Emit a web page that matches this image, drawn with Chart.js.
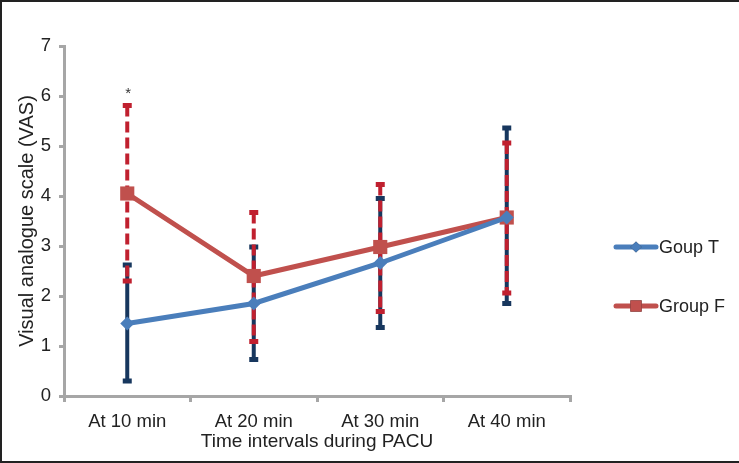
<!DOCTYPE html>
<html>
<head>
<meta charset="utf-8">
<script src="https://cdn.jsdelivr.net/npm/chart.js@4/dist/chart.umd.min.js"></script>
<style>
  html, body { margin: 0; padding: 0; background: #fff; }
  #frame { position: absolute; left: 0; top: 0; width: 739px; height: 463px; box-sizing: border-box; border: 2px solid #222; border-right: none; }
  #wrap { position: absolute; left: 0; top: 0; width: 737px; height: 459px; }
</style>
</head>
<body>
<div id="frame"><div id="wrap"><canvas id="vasChart"></canvas></div></div>
<script>
const labels = ["At 10 min", "At 20 min", "At 30 min", "At 40 min"];
const groupT = [1.45, 1.85, 2.66, 3.57];
const groupF = [4.05, 2.40, 2.98, 3.57];
// error bar ends (lower / upper)
const groupTLow = [0.30, 0.73, 1.37, 1.85];
const groupTHigh = [2.62, 2.98, 3.95, 5.36];
const groupFLow = [2.30, 1.09, 1.69, 2.06];
const groupFHigh = [5.81, 3.67, 4.23, 5.06];
const yTicks = [0, 1, 2, 3, 4, 5, 6, 7];

const FONT = "'Liberation Sans', Arial, sans-serif";

// draws the vertical error bars behind the lines
const errorBars = {
  id: "errorBars",
  beforeDatasetsDraw(chart) {
    const { ctx, scales: { x, y } } = chart;
    const bars = [
      { low: groupTLow, high: groupTHigh, color: "#17375E", dash: [] },
      { low: groupFLow, high: groupFHigh, color: "#C0202F", dash: [11, 5] },
    ];
    ctx.save();
    bars.forEach(b => {
      b.low.forEach((lo, i) => {
        const px = x.getPixelForValue(i);
        const y1 = y.getPixelForValue(lo);
        const y2 = y.getPixelForValue(b.high[i]);
        ctx.strokeStyle = b.color;
        ctx.lineWidth = 4;
        ctx.setLineDash(b.dash);
        ctx.beginPath();
        ctx.moveTo(px, y2);
        ctx.lineTo(px, y1);
        ctx.stroke();
        ctx.setLineDash([]);
        ctx.fillStyle = b.color;
        ctx.fillRect(px - 4.5, y1 - 2.5, 9, 5);
        ctx.fillRect(px - 4.5, y2 - 2.5, 9, 5);
      });
    });
    ctx.restore();
  },
  afterDraw(chart) {
    const { ctx, scales: { x, y } } = chart;
    ctx.save();
    // significance mark
    ctx.fillStyle = "#333";
    ctx.font = "15px " + FONT;
    ctx.textAlign = "center";
    ctx.textBaseline = "middle";
    ctx.fillText("*", x.getPixelForValue(0) + 1, y.getPixelForValue(groupFHigh[0]) - 12);
    // legend
    const items = [
      { text: "Goup T", ds: chart.data.datasets[0], y: 245 },
      { text: "Group F", ds: chart.data.datasets[1], y: 304 },
    ];
    items.forEach(it => {
      ctx.strokeStyle = it.ds.borderColor;
      ctx.lineWidth = 5;
      ctx.lineCap = "round";
      ctx.beginPath();
      ctx.moveTo(614, it.y);
      ctx.lineTo(654, it.y);
      ctx.stroke();
      Chart.helpers.drawPoint(ctx, {
        pointStyle: it.ds.pointStyle,
        radius: it.ds.pointRadius * 0.8,
        borderWidth: 0,
      }, 634, it.y);
      ctx.fillStyle = it.ds.borderColor;
      ctx.fill();
      ctx.fillStyle = "#222";
      ctx.font = "18px " + FONT;
      ctx.textAlign = "left";
      ctx.textBaseline = "middle";
      ctx.fillText(it.text, 657, it.y + 1);
    });
    ctx.restore();
  }
};

new Chart(document.getElementById("vasChart"), {
  type: "line",
  data: {
    labels: labels,
    datasets: [
      {
        label: "Goup T",
        data: groupT,
        borderColor: "#4A7EBB",
        backgroundColor: "#4A7EBB",
        borderWidth: 5,
        pointStyle: "rectRot",
        pointRadius: 7,
        pointBorderWidth: 0,
        tension: 0,
      },
      {
        label: "Group F",
        data: groupF,
        borderColor: "#C0504D",
        backgroundColor: "#C0504D",
        borderWidth: 5,
        pointStyle: "rect",
        pointRadius: 10,
        pointBorderWidth: 0,
        tension: 0,
      },
    ],
  },
  options: {
    responsive: true,
    maintainAspectRatio: false,
    animation: false,
    layout: { padding: { top: 44, right: 169, left: 0, bottom: 8 } },
    plugins: {
      legend: { display: false },
      tooltip: { enabled: false },
    },
    scales: {
      x: {
        offset: true,
        border: { color: "#A6A6A6", width: 3 },
        grid: { display: true, drawOnChartArea: false, offset: true, tickLength: 6, color: "#A6A6A6", lineWidth: 3 },
        ticks: { color: "#222", font: { family: FONT, size: 18.5 }, padding: 9 },
        title: { display: true, text: "Time intervals during PACU", color: "#222", font: { family: FONT, size: 19 }, padding: { top: 0, bottom: 0 } },
        afterFit(scale) { scale.height = 57; },
      },
      y: {
        min: 0,
        max: 7,
        afterBuildTicks(scale) { scale.ticks = yTicks.map(v => ({ value: v })); },
        border: { color: "#A6A6A6", width: 3 },
        grid: { display: true, drawOnChartArea: false, tickLength: 5, color: "#A6A6A6", lineWidth: 3 },
        ticks: { color: "#222", font: { family: FONT, size: 18.5 }, padding: 8 },
        title: { display: true, text: "Visual analogue scale (VAS)", color: "#222", font: { family: FONT, size: 20 }, padding: { top: 13, bottom: 0 } },
        afterFit(scale) { scale.width = 62; },
      },
    },
  },
  plugins: [errorBars],
});
</script>
</body>
</html>
